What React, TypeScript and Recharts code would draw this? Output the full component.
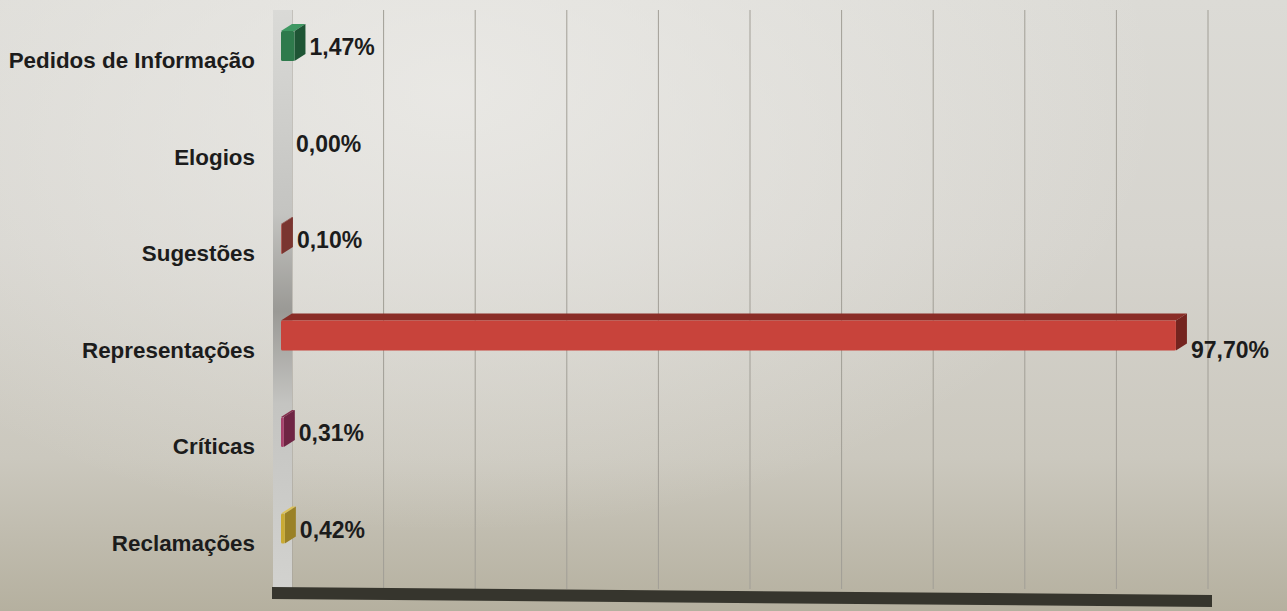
import React from 'react';
import { BarChart, Bar, XAxis, YAxis, CartesianGrid, LabelList, ReferenceArea } from 'recharts';

const categories = ['Pedidos de Informação', 'Elogios', 'Sugestões', 'Representações', 'Críticas', 'Reclamações'];
const values = [1.47, 0.0, 0.1, 97.7, 0.31, 0.42];
const xTicks = [0, 10, 20, 30, 40, 50, 60, 70, 80, 90, 100];

const frontColors = ['#2e7a4c', '#888888', '#a9544d', '#c8433b', '#a8416c', '#c9aa34'];
const topColors = ['#3f9863', '#999999', '#8e3f39', '#8a2d27', '#86304f', '#ddc25a'];
const sideColors = ['#1e5535', '#777777', '#7a3530', '#74241f', '#6f2544', '#9a8127'];

const data = categories.map((name, i) => ({ name, value: values[i] }));

const FONT = '"Liberation Sans", Arial, sans-serif';
const DX = 11;
const DY = 7;
const LIFT = 12;

const fmt = (v: number) => v.toFixed(2).replace('.', ',') + '%';

function Bar3D(props: any) {
  const { x, y, width, height, index } = props;
  if (!width || width <= 0) return null;
  const fx = x - DX;
  const fy = y - LIFT;
  const bx = x;
  const by = fy - DY;
  return (
    <g>
      <polygon
        points={`${fx},${fy} ${fx + width},${fy} ${bx + width},${by} ${bx},${by}`}
        fill={topColors[index]}
      />
      <polygon
        points={`${fx + width},${fy} ${bx + width},${by} ${bx + width},${by + height} ${fx + width},${fy + height}`}
        fill={sideColors[index]}
      />
      <rect x={fx} y={fy} width={width} height={height} fill={frontColors[index]} rx={1.5} />
    </g>
  );
}

function ValueLabel(props: any) {
  const { x, y, width, height, value } = props;
  const cy = y + height / 2 + (value > 50 ? 2 : -11);
  return (
    <text
      x={x + width + 4}
      y={cy}
      dy="0.35em"
      fontFamily={FONT}
      fontWeight="bold"
      fontSize={23}
      fill="#1c1c1c"
    >
      {fmt(Number(value))}
    </text>
  );
}

function CatTick(props: any) {
  const { x, y, payload } = props;
  return (
    <text
      x={x}
      y={y + 2}
      dy="0.35em"
      textAnchor="end"
      fontFamily={FONT}
      fontWeight="bold"
      fontSize={22.4}
      fill="#1c1c1c"
    >
      {payload.value}
    </text>
  );
}

function NoTick() {
  return <g />;
}

function WallAndFloor(props: any) {
  const { x, y, width, height } = props;
  const bottom = y + height;
  const right = x + width;
  return (
    <g>
      <defs>
        <linearGradient id="wallGrad" x1="0" y1="0" x2="0" y2="1">
          <stop offset="0%" stopColor="#dadad7" />
          <stop offset="35%" stopColor="#c4c4c1" />
          <stop offset="52%" stopColor="#9a9995" />
          <stop offset="68%" stopColor="#c4c4c1" />
          <stop offset="100%" stopColor="#d2d2cf" />
        </linearGradient>
      </defs>
      <rect x={x - 19} y={y} width={19} height={height} fill="url(#wallGrad)" />
      <polygon
        points={`${x - 20},${bottom - 2} ${right + 4},${bottom + 6} ${right + 4},${bottom + 18} ${x - 20},${bottom + 10}`}
        fill="#36352d"
      />
    </g>
  );
}

export default function App() {
  return (
    <div
      style={{
        position: 'fixed',
        left: 0,
        top: 0,
        width: 1287,
        height: 611,
        background:
          'radial-gradient(ellipse at 35% 15%, rgba(238,237,234,0.75), rgba(238,237,234,0) 60%), linear-gradient(180deg, #dcdbd6 0%, #d6d4ce 40%, #cbc8be 75%, #b5b09f 100%)',
      }}
    >
      <BarChart
        width={1287}
        height={611}
        data={data}
        layout="vertical"
        margin={{ top: 10, right: 79, bottom: 21, left: 0 }}
        barSize={30}
      >
        <CartesianGrid horizontal={false} vertical stroke="#a19e96" strokeWidth={1} />
        <XAxis
          type="number"
          domain={[0, 100]}
          ticks={xTicks}
          tick={<NoTick />}
          axisLine={false}
          tickLine={false}
          height={1}
        />
        <YAxis
          type="category"
          dataKey="name"
          width={292}
          axisLine={false}
          tickLine={false}
          tickMargin={31}
          tick={<CatTick />}
        />
        <ReferenceArea x1={0} x2={100} ifOverflow="visible" shape={<WallAndFloor />} fill="none" />
        <Bar dataKey="value" shape={<Bar3D />} isAnimationActive={false}>
          <LabelList dataKey="value" content={<ValueLabel />} />
        </Bar>
      </BarChart>
    </div>
  );
}
